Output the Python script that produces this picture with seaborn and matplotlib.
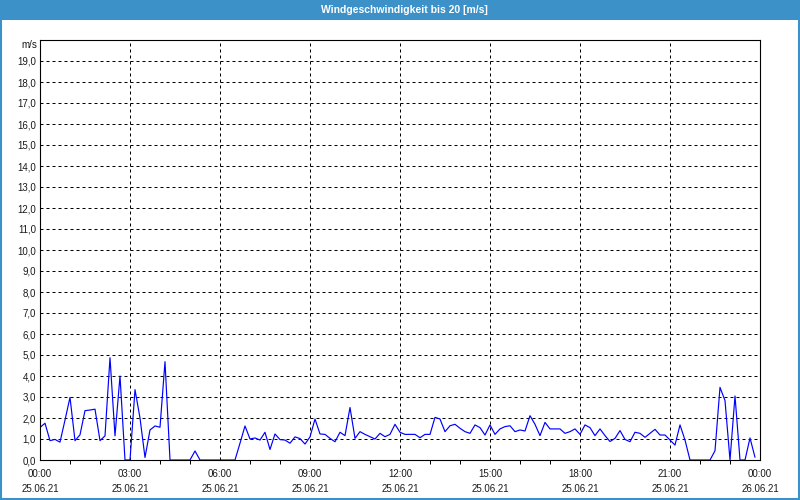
import matplotlib
matplotlib.use("Agg")
import matplotlib.pyplot as plt
import matplotlib.dates as mdates
from matplotlib.ticker import FuncFormatter, MultipleLocator
from matplotlib.patches import Rectangle
import seaborn as sns
import pandas as pd

# ---- data ----
title = "Windgeschwindigkeit bis 20 [m/s]"
unit_label = "m/s"
start_time = "2021-06-25 00:00"
end_time = "2021-06-26 00:00"
speed = [
    1.55, 1.75, 0.92, 0.98, 0.85, 1.9, 2.98, 0.92, 1.2, 2.35,
    2.38, 2.42, 0.92, 1.15, 4.87, 1.15, 4.0, 0.0, 0.0, 3.35,
    2.0, 0.12, 1.43, 1.62, 1.56, 4.68, 0.0, 0.0, 0.0, 0.0,
    0.0, 0.43, 0.0, 0.0, 0.0, 0.0, 0.0, 0.0, 0.0, 0.0,
    0.8, 1.62, 1.0, 1.05, 0.95, 1.32, 0.5, 1.24, 0.97, 0.95,
    0.8, 1.1, 1.02, 0.76, 1.1, 1.95, 1.24, 1.22, 1.03, 0.87,
    1.32, 1.16, 2.5, 1.03, 1.35, 1.22, 1.11, 1.0, 1.27, 1.11,
    1.22, 1.7, 1.32, 1.22, 1.22, 1.22, 1.06, 1.22, 1.22, 2.03,
    1.95, 1.35, 1.63, 1.7, 1.51, 1.35, 1.27, 1.67, 1.54, 1.19,
    1.67, 1.22, 1.48, 1.59, 1.63, 1.35, 1.43, 1.38, 2.11, 1.7,
    1.16, 1.79, 1.48, 1.48, 1.48, 1.27, 1.35, 1.48, 1.22, 1.67,
    1.54, 1.16, 1.48, 1.16, 0.88, 1.03, 1.4, 0.98, 0.87, 1.32,
    1.27, 1.08, 1.27, 1.46, 1.19, 1.19, 0.95, 0.71, 1.67, 0.95,
    0.0, 0.0, 0.0, 0.0, 0.0, 0.44, 3.46, 2.83, 0.0, 3.05,
    0.0, 0.0, 1.05, 0.13,
]
times = pd.date_range(start_time, periods=len(speed), freq="10min")
df = pd.DataFrame({"time": times, "speed": speed})

# ---- style ----
sns.set_style("white")
plt.rcParams["font.family"] = ["Liberation Sans", "DejaVu Sans"]

BLUE_BAR = "#3c91c8"
fig = plt.figure(figsize=(8, 5), dpi=100)
fig.patch.set_facecolor("white")
ax = fig.add_axes([0.05, 0.08, 0.9, 0.84])
ax.set_facecolor("white")

sns.lineplot(data=df, x="time", y="speed", ax=ax, color="#0000ff",
             linewidth=0.85, estimator=None)

ax.set_xlim(pd.Timestamp(start_time), pd.Timestamp(end_time))
ax.set_ylim(0, 20)
ax.set_xlabel("")
ax.set_ylabel("")

ax.xaxis.set_major_locator(mdates.HourLocator(byhour=range(0, 24, 3)))
ax.xaxis.set_minor_locator(mdates.HourLocator())
ax.xaxis.set_major_formatter(mdates.DateFormatter("%H:%M\n%d.%m.%y"))
ax.yaxis.set_major_locator(MultipleLocator(1))
ax.yaxis.set_major_formatter(
    FuncFormatter(lambda v, p: "" if v >= 19.5 else f"{v:.1f}".replace(".", ",")))

ax.grid(True, which="major", color="black", linestyle=(0, (3, 3)), linewidth=0.72)
ax.tick_params(axis="x", which="major", length=0, pad=6.5, labelsize=7,
               colors="#1a1a1a")
ax.tick_params(axis="x", which="minor", length=3, width=0.72, direction="out",
               color="black", bottom=True)
ax.tick_params(axis="y", which="major", length=0, pad=3, labelsize=7,
               colors="#1a1a1a")
for lab in ax.get_xticklabels():
    lab.set_linespacing(1.65)
for s in ax.spines.values():
    s.set_visible(True)
    s.set_color("black")
    s.set_linewidth(0.8)

# unit label at top of y axis
fig.text(37 / 800, 1 - 45 / 500, unit_label, ha="right", va="center",
         fontsize=7, color="#1a1a1a")

# title bar and frame
fig.patches.append(Rectangle((0, 1 - 20 / 500), 1, 20 / 500,
                             transform=fig.transFigure, facecolor=BLUE_BAR,
                             edgecolor="none", zorder=0))
fig.patches.append(Rectangle((0.001, 0.002), 0.998, 0.996,
                             transform=fig.transFigure, facecolor="none",
                             edgecolor=BLUE_BAR, linewidth=1.5, zorder=5))
fig.text(0.505, 1 - 10 / 500, title, ha="center", va="center",
         fontsize=7.5, color="white", fontweight="bold")

fig.savefig("out.png", dpi=100)
